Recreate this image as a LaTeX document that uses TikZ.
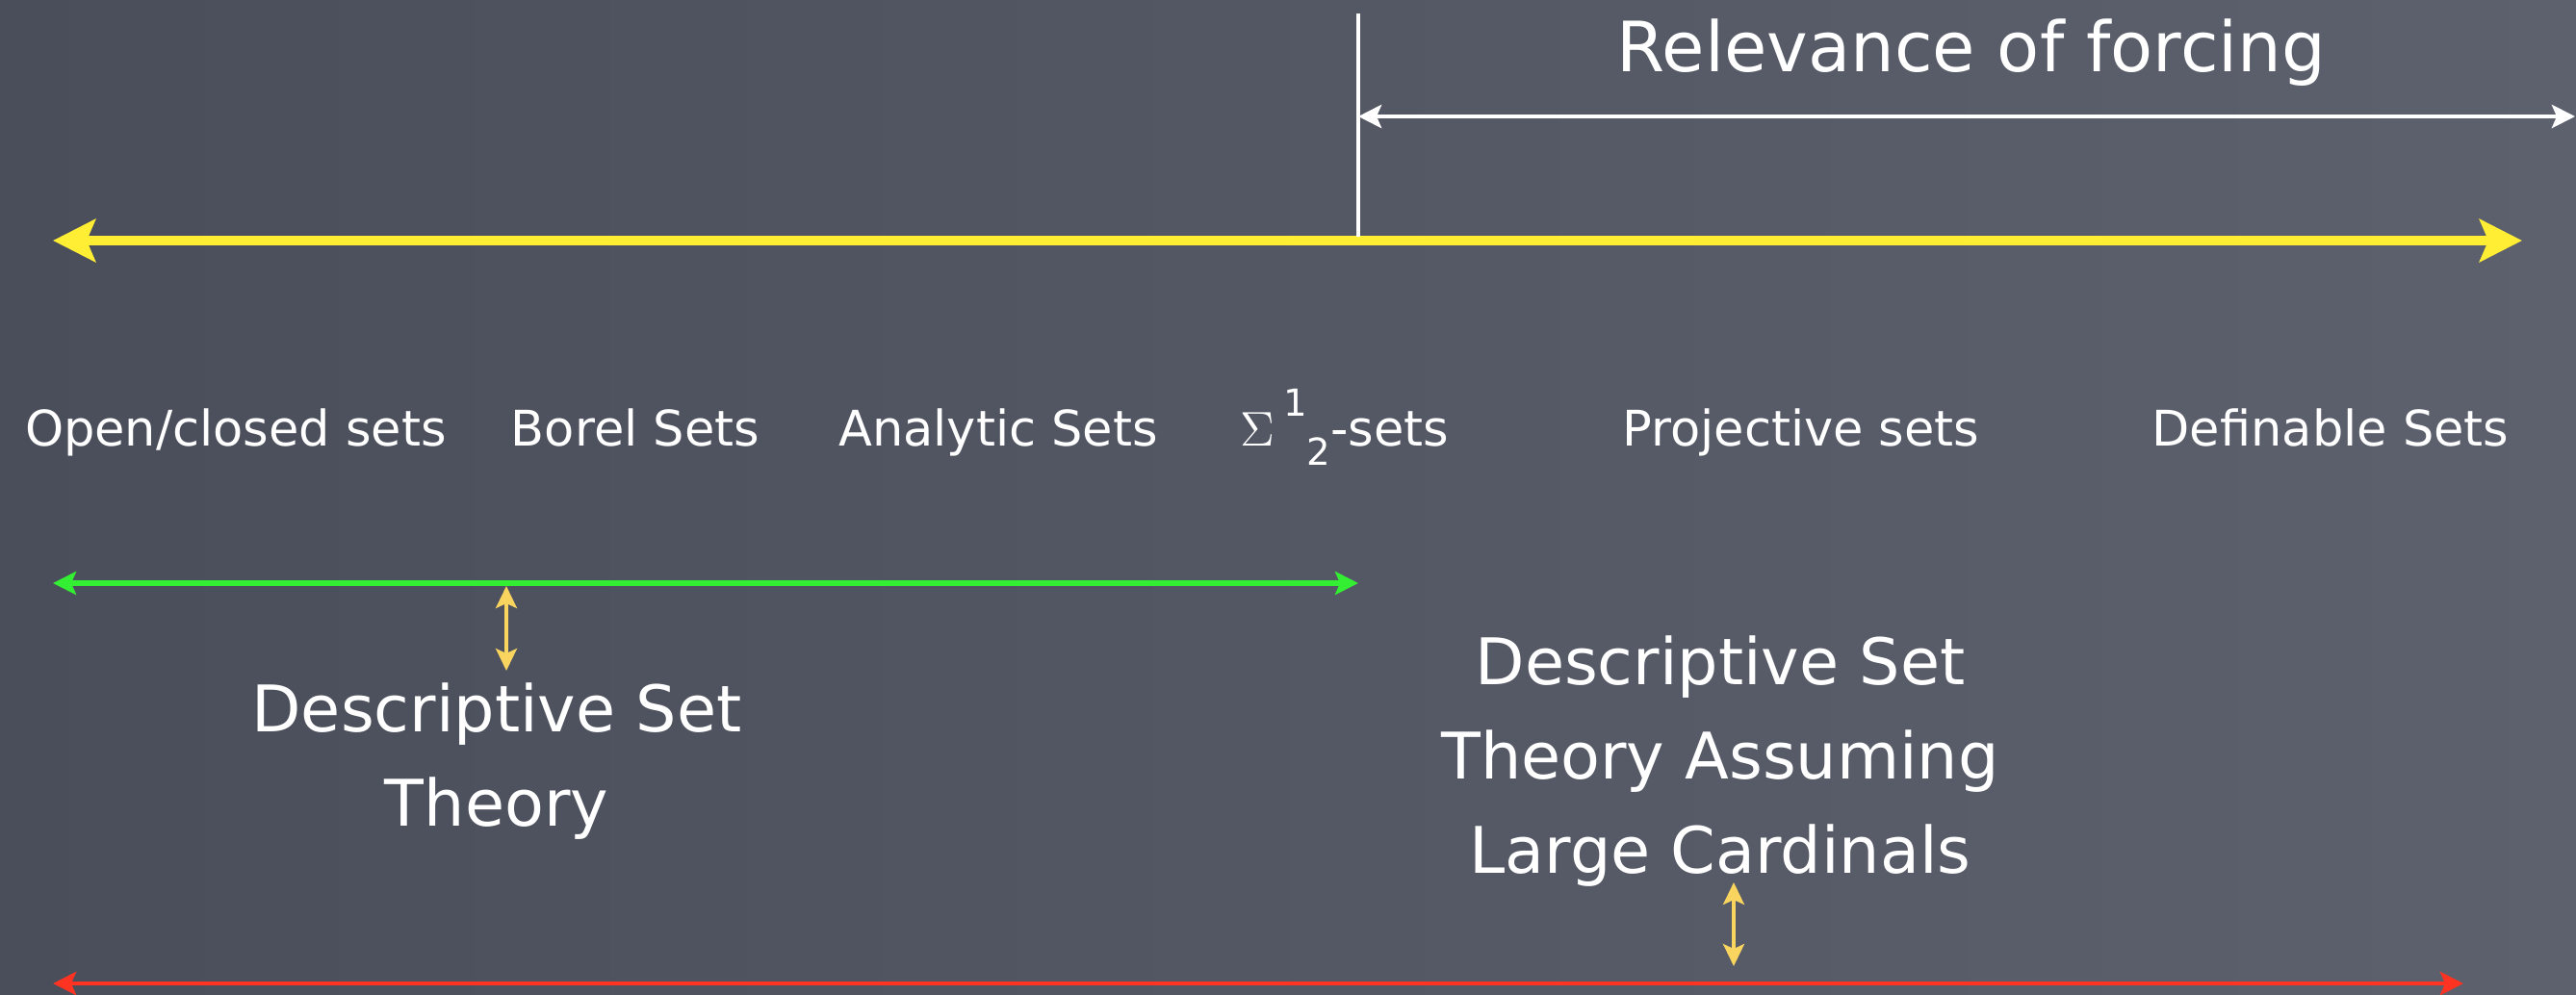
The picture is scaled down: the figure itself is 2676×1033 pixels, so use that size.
\documentclass[tikz,border=0pt]{standalone}
\usepackage{fontspec}
\setmainfont{DejaVu Sans}
\usetikzlibrary{arrows.meta, positioning}
\definecolor{boarddark}{HTML}{4A4E5A}
\definecolor{boardmid}{HTML}{646876}
\definecolor{boardright}{HTML}{5D616E}
\definecolor{chalkyellow}{HTML}{FFEE33}
\definecolor{chalkgreen}{HTML}{33EE33}
\definecolor{chalkred}{HTML}{FF3322}
\definecolor{chalkgold}{HTML}{F9D45E}

\begin{document}
\begin{tikzpicture}[
  x=0.01cm, y=-0.01cm,
  setlabel/.style={anchor=base, text=white, inner sep=0pt, font=\fontsize{14.5}{17}\selectfont},
  bigtext/.style={anchor=base, text=white, inner sep=0pt, align=center, font=\fontsize{19}{27.8}\selectfont},
  axis/.style={chalkyellow, line width=2.85pt, >={Stealth[length=0.44cm, width=0.44cm, inset=0.09cm]}, <->},
  span/.style={line width=1.5pt, >={Stealth[length=0.24cm, width=0.24cm, inset=0.05cm]}, <->},
  pointer/.style={chalkgold, line width=1pt, >={Stealth[length=0.23cm, width=0.22cm, inset=0.05cm]}, <->},
]
% chalkboard
\shade[left color=boarddark, middle color=boardmid, right color=boardright] (0,0) rectangle (2676,1033);
\useasboundingbox (0,0) rectangle (2676,1033);

% kinds of sets
\node[setlabel] (open) at (245,463) {Open/closed sets};
\node[setlabel] (borel) at (660,463) {Borel Sets};
\node[setlabel] (analytic) at (1037,463) {Analytic Sets};
\node[setlabel] (sigma) at (1397,463) {$\Sigma$\,\raisebox{1.1ex}{\fontsize{11}{11}\selectfont 1}\raisebox{-0.75ex}{\fontsize{11}{11}\selectfont 2}-sets};
\node[setlabel] (projective) at (1871,463) {Projective sets};
\node[setlabel] (definable) at (2421,463) {Definable Sets};

% headings (base = last line)
\node[bigtext, font=\fontsize{20.5}{27.8}\selectfont] (forcing) at (2048,74) {Relevance of forcing};
\node[bigtext] (dst) at (516,858) {Descriptive Set\\Theory};
\node[bigtext] (dstlc) at (1787,907) {Descriptive Set\\Theory Assuming\\Large Cardinals};

% end points
\coordinate (axisL) at (55,250);
\coordinate (axisR) at (2620,250);
\coordinate (cutT) at (1411,14);
\coordinate (cutB) at (1411,246);
\coordinate (forceL) at (1411,121);
\coordinate (forceR) at (2675,121);
\coordinate (greenL) at (55,606);
\coordinate (greenR) at (1411,606);
\coordinate (redL) at (55,1022);
\coordinate (redR) at (2559,1022);
\coordinate (dstT) at (526,609);
\coordinate (dstB) at (526,697);
\coordinate (lcT) at (1801,917);
\coordinate (lcB) at (1801,1004);

\draw[axis] (axisL) -- (axisR);
\draw[white, line width=1.4pt] (cutT) -- (cutB);
\draw[span, white, line width=1.4pt] (forceL) -- (forceR);
\draw[span, chalkgreen] (greenL) -- (greenR);
\draw[span, chalkred, line width=1.4pt] (redL) -- (redR);
\draw[pointer] (dstT) -- (dstB);
\draw[pointer] (lcB) -- (lcT);
\end{tikzpicture}
\end{document}
